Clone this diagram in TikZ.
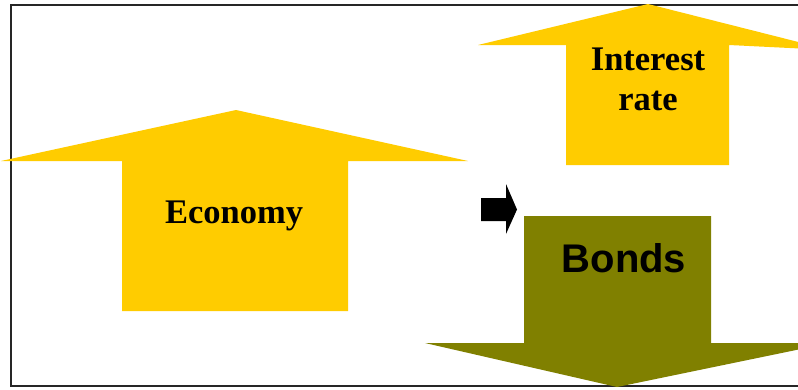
\documentclass[tikz,border=0pt]{standalone}
\usepackage{fontspec}
\setmainfont{Liberation Serif}
\newfontfamily\arialfont{Liberation Sans}
\definecolor{gold}{HTML}{FFCC00}
\definecolor{olivebrown}{HTML}{808000}
\tikzset{
	label serif/.style={font=\fontsize{34.5}{40}\selectfont\bfseries, align=center},
	label sans/.style={font=\arialfont\fontsize{40}{46}\selectfont\bfseries},
}

\begin{document}
\begin{tikzpicture}[x=1pt,y=-1pt]
\useasboundingbox (0,0) rectangle (798,389);
\clip (0,0) rectangle (798,389);
\fill[white] (0,0) rectangle (798,389);
\draw[line width=2pt,black!85] (10.5,5) rectangle (820,386);
% economy up
\fill[gold] (122,311) -- (122,161) -- (1,161) -- (236,110) -- (468,161) -- (348,161) -- (348,311) -- cycle;
% interest rate up
\fill[gold] (566,165) -- (566,45) -- (478,45) -- (648,4) -- (830,50) -- (729,45) -- (729,165) -- cycle;
% bonds down
\fill[olivebrown] (524,216) -- (711,216) -- (711,343) -- (830,343) -- (617,387) -- (425,343) -- (524,343) -- cycle;
% small arrow
\fill[black] (481,198) -- (506,198) -- (506,184) -- (517,209.5) -- (506,234) -- (506,221) -- (481,221) -- cycle;
\node[label serif] (economy) at (234,215.5) {Economy};
\node[label serif] (rate) at (648,79.5) {Interest\\rate};
\node[label sans] (bonds) at (624,258) {Bonds};
\end{tikzpicture}
\end{document}
